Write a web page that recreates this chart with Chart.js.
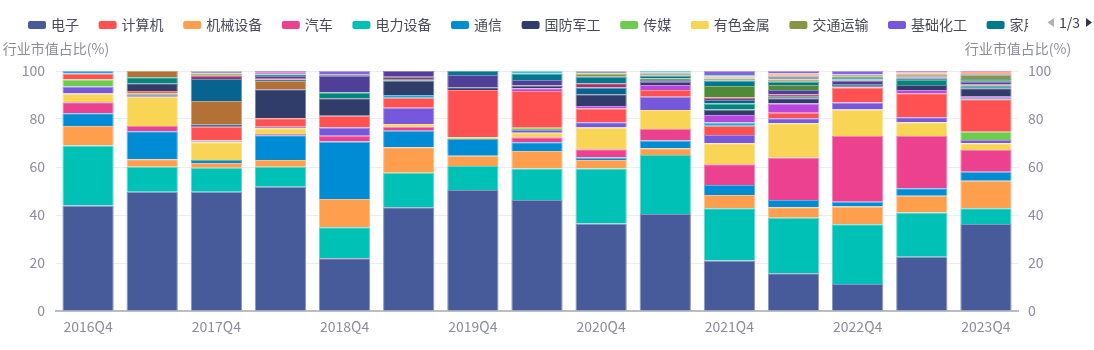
<!DOCTYPE html>
<html>
<head>
<meta charset="utf-8">
<script src="https://cdn.jsdelivr.net/npm/chart.js@4.4.1/dist/chart.umd.min.js"></script>
<style>
html,body{margin:0;padding:0;background:#ffffff;}
#wrap{position:relative;width:1094px;height:350px;}
</style>
</head>
<body>
<div id="wrap"><canvas id="c" width="1094" height="350"></canvas></div>
<script>
// ---- categories ----
const categories = ['2016Q4','2017Q2','2017Q4','2018Q2','2018Q4','2019Q2','2019Q4','2020Q2','2020Q4','2021Q2','2021Q4','2022Q2','2022Q4','2023Q2','2023Q4'];
const yTicks = [0,20,40,60,80,100];
const axisTitle = '行业市值占比(%)';
const pagerText = '1/3';

// ---- series values (industry market-cap share, %) ----
const elec      = [44,49.7,49.7,51.8,22,43.2,50.4,46.25,36.5,40.4,21,15.7,11.25,22.6,36.25];
const power     = [25,10.4,10,8.3,12.9,14.4,10,13.15,22.9,24.6,21.8,23.2,24.85,18.4,6.55];
const machinery = [8.1,3.1,2,2.8,11.8,10.6,4.3,7.3,3.5,2.8,5.5,4.3,7.4,7,11.5];
const telecom   = [5.3,11.7,1.2,10.3,23.9,6.9,7,3.6,1.1,3.2,4.2,3.05,2,3.1,3.7];
const autos     = [4.6,2.2,0,0.5,2.4,1.7,0,2.1,3.4,4.8,8.6,17.75,27.4,21.8,9.1];
const metals    = [3.6,12.2,7.4,2.4,0,1.1,0.7,1.9,9.1,7.95,8.8,14.2,11.1,5.7,2.8];
const chemicals = [2.9,0.7,0.4,0.7,3.5,6.8,0,1.1,2.1,5.55,3.4,2.1,2.9,2.1,1.35];
const media     = [3,0.7,0.3,0,0,0,0,1,0,0,0,0,0,0,3.45];
const computer  = [2.5,1.0,5.8,3.5,4.9,4.2,19.7,15.3,5.8,2.8,3.9,2.3,6.2,10,13.5];
const pharma    = [1.0,0,0,0,0,1.1,0,0,0,0,1.3,0,0,0,0.7];
const decoration= [0,0,0,0,0,0,0,1.1,1.0,2.1,3.2,3.9,0.3,1.4,0.7];
const defense   = [0,3.2,1.0,12.1,7.2,6.0,1.1,1.2,4.9,1.3,2.3,2.1,0.8,2.1,3.2];
const utilities = [0,2.5,0,0,2.4,0.7,0,0,0,0,2.5,0.7,0.4,2.05,0.6];
const buildMat  = [0,2.6,9.7,3.4,0,0,0,0,0,0,0,0,0,0,0];
const petro     = [0,0,9.2,0.7,0,0,0,0,2.8,0,1.4,0,0,0.5,0.6];
const food      = [0,0,1.3,0.6,0,0.9,0,0,1.8,0,1.1,1.0,0,0.5,0.5];
const steel     = [0,0,0,0.8,6.9,2.4,5.1,2.25,0,0.8,0,1.8,1.4,0,0.9];
const agri      = [0,0,0,0,0,0,0,0,0,0.6,4.75,2.1,0.5,0,0.5];
const appliance = [0,0,0,0.6,0,0,1.7,2.75,2.7,1.2,2.25,1.3,0.6,0.6,0.8];
const transport = [0,0,1.0,0.3,0,0,0,0,1.4,0.8,0.9,1.0,0.5,0.5,1.6];
const coal      = [0,0,1.0,0,0.85,0,0,0,1.0,0.6,0.5,1.5,1.0,0,0.5];
const lightMfg  = [0,0,0,0,0,0,0,0,0,0,0.4,1.0,0,0.6,0.5];
const services  = [0,0,0,0,0,0,0,1.0,0,0.5,0.5,0,0,0,0];
const beauty    = [0,0,0,0.5,0,0,0,0,0,0,0,0,0,0.5,0.7];
const environ   = [0,0,0,0.7,1.25,0,0,0,0,0,1.7,1.0,1.4,0.55,0];

// legend (first page of a 3-page scroll legend)
const legendPage = ['电子','计算机','机械设备','汽车','电力设备','通信','国防军工','传媒','有色金属','交通运输','基础化工','家用电器'];

// ---- series (stack order, bottom to top) with styles ----
const series = [
  {name:'电子', data:elec, color:'#475b9a'},
  {name:'电力设备', data:power, color:'#00c1b5'},
  {name:'机械设备', data:machinery, color:'#ff9e4c'},
  {name:'通信', data:telecom, color:'#008bd5'},
  {name:'汽车', data:autos, color:'#ec418e'},
  {name:'有色金属', data:metals, color:'#f8d554'},
  {name:'基础化工', data:chemicals, color:'#7658dd'},
  {name:'传媒', data:media, color:'#6dcb4e'},
  {name:'计算机', data:computer, color:'#ff5151'},
  {name:'医药生物', data:pharma, color:'#18a8dc'},
  {name:'建筑装饰', data:decoration, color:'#b946dd'},
  {name:'国防军工', data:defense, color:'#303d6a'},
  {name:'公用事业', data:utilities, color:'#00877b'},
  {name:'建筑材料', data:buildMat, color:'#b47136'},
  {name:'石油石化', data:petro, color:'#07638f'},
  {name:'食品饮料', data:food, color:'#a4326b'},
  {name:'钢铁', data:steel, color:'#4f3f99'},
  {name:'农林牧渔', data:agri, color:'#4f8b36'},
  {name:'家用电器', data:appliance, color:'#00798f'},
  {name:'交通运输', data:transport, color:'#8a9447'},
  {name:'煤炭', data:coal, color:'#9b9fb0'},
  {name:'轻工制造', data:lightMfg, color:'#f3a35a'},
  {name:'社会服务', data:services, color:'#3cc6c6'},
  {name:'美容护理', data:beauty, color:'#f3629f'},
  {name:'环保', data:environ, color:'#8563e3'}
];

function lighten(hex, f){
  const n = parseInt(hex.slice(1),16);
  const r=(n>>16)&255, g=(n>>8)&255, b=n&255;
  const m = c => Math.round(c + (255-c)*f);
  return 'rgb(' + m(r) + ',' + m(g) + ',' + m(b) + ')';
}
const colorOf = {};
series.forEach(s => colorOf[s.name] = s.color);

const FONT = '"Noto Sans CJK SC","Noto Sans",sans-serif';
const tickColor = '#8c8c9e';

const overlay = {
  id: 'overlay',
  afterDraw(chart){
    const ctx = chart.ctx;
    const area = chart.chartArea;
    // legend, clipped like a scroll legend
    ctx.save();
    ctx.beginPath();
    ctx.rect(0, 0, 1028, 45);
    ctx.clip();
    ctx.font = '14px ' + FONT;
    ctx.textBaseline = 'middle';
    ctx.textAlign = 'left';
    let x = 28;
    const yc = 25;
    legendPage.forEach(name => {
      ctx.fillStyle = colorOf[name];
      ctx.beginPath();
      if (ctx.roundRect) ctx.roundRect(x, yc - 4, 18, 8, 2); else ctx.rect(x, yc - 4, 18, 8);
      ctx.fill();
      ctx.fillStyle = '#4a4a58';
      ctx.fillText(name, x + 23, yc);
      x += 18 + 5 + ctx.measureText(name).width + 19.6;
    });
    ctx.restore();
    // pager
    ctx.save();
    ctx.fillStyle = '#b0b0b8';
    ctx.beginPath();
    ctx.moveTo(1054, 18); ctx.lineTo(1054, 27); ctx.lineTo(1047.5, 22.5); ctx.closePath(); ctx.fill();
    ctx.fillStyle = '#2f3550';
    ctx.beginPath();
    ctx.moveTo(1086, 18); ctx.lineTo(1086, 27); ctx.lineTo(1092, 22.5); ctx.closePath(); ctx.fill();
    ctx.fillStyle = '#3a3a48';
    ctx.font = '14px ' + FONT;
    ctx.textAlign = 'center';
    ctx.textBaseline = 'middle';
    ctx.fillText(pagerText, 1069.5, 23);
    // axis names
    ctx.fillStyle = tickColor;
    ctx.fillText(axisTitle, area.left, 49);
    ctx.fillText(axisTitle, area.right, 49);
    ctx.restore();
  }
};

new Chart(document.getElementById('c').getContext('2d'), {
  type: 'bar',
  data: {
    labels: categories,
    datasets: series.map(s => ({
      label: s.name,
      data: s.data,
      backgroundColor: s.color,
      borderColor: lighten(s.color, 0.35),
      borderWidth: 1,
      barPercentage: 0.8,
      categoryPercentage: 1,
      stack: 'all'
    }))
  },
  options: {
    responsive: false,
    animation: false,
    devicePixelRatio: 1,
    layout: { padding: { top: 71, left: 0, right: 0, bottom: 0 } },
    plugins: { legend: { display: false }, tooltip: { enabled: false } },
    scales: {
      x: {
        stacked: true,
        grid: { display: false, drawTicks: false },
        border: { display: true, color: '#bcbcc8', width: 2 },
        ticks: {
          autoSkip: false, maxRotation: 0, padding: 7,
          color: tickColor, font: { size: 14, family: FONT },
          callback: (v, i) => (i % 2 === 0 ? categories[i] : '')
        },
        afterFit: s => { s.height = 39; }
      },
      y: {
        stacked: true, position: 'left', min: 0, max: 100,
        afterBuildTicks: s => { s.ticks = yTicks.map(v => ({ value: v })); },
        grid: { color: c => (c.tick && c.tick.value === 0 ? 'rgba(0,0,0,0)' : '#ebebf2'), drawTicks: false, lineWidth: 1 },
        border: { display: false },
        ticks: { padding: 11, color: tickColor, font: { size: 14, family: FONT } },
        afterFit: s => { s.width = 56; }
      },
      y2: {
        position: 'right', min: 0, max: 100,
        afterBuildTicks: s => { s.ticks = yTicks.map(v => ({ value: v })); },
        grid: { display: false, drawTicks: false },
        border: { display: false },
        ticks: { padding: 10, color: tickColor, font: { size: 14, family: FONT } },
        afterFit: s => { s.width = 76; }
      }
    }
  },
  plugins: [overlay]
});
</script>
</body>
</html>
